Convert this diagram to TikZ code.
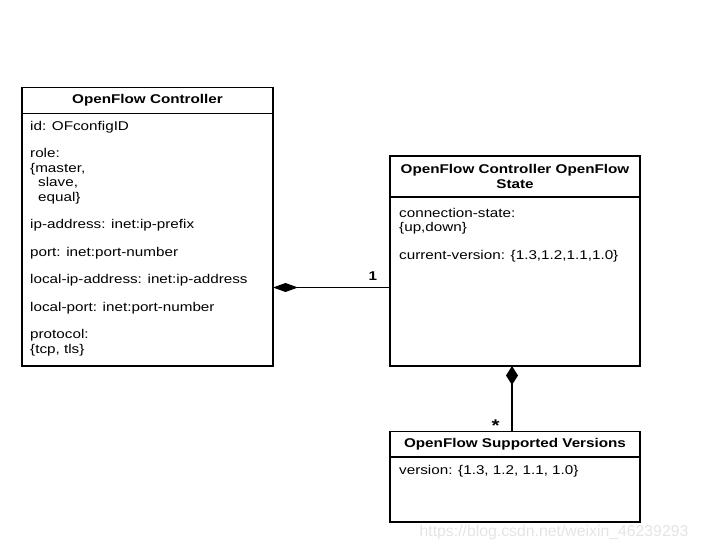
\documentclass[tikz,border=0pt]{standalone}
\usepackage{fontspec}
\setmainfont{Liberation Sans}[FakeStretch=1.2]
\newfontfamily\wmfont{Liberation Sans}
\usepackage{tikz}
\usetikzlibrary{arrows.meta,positioning}
\usepackage{xcolor}
\definecolor{umlline}{RGB}{0,0,0}
\definecolor{umlmark}{RGB}{228,228,228}
\newcommand{\umlfont}{\fontsize{12.7pt}{14.5pt}\selectfont}
\tikzstyle{classhead} = [rectangle, draw=umlline, line width=1.1pt, outer sep=0pt, anchor=north west, font=\umlfont\bfseries, align=center, inner sep=0pt]
\tikzstyle{classbody} = [rectangle, draw=umlline, line width=1.1pt, outer sep=0pt, inner sep=0pt]
\tikzstyle{attrs} = [font=\umlfont, align=left, inner sep=0pt]
\tikzstyle{composition} = [line width=1.1pt, -{Diamond[length=25pt,width=9pt]}]
\tikzstyle{compositionv} = [line width=1.1pt, -{Diamond[length=19pt,width=12pt]}]
\tikzstyle{mult} = [font=\umlfont\bfseries, inner sep=0pt]

\begin{document}
\begin{tikzpicture}[x=1pt, y=1pt]
\useasboundingbox (0,0) rectangle (701,551);
% Classes
\node[classhead, minimum width=251pt, minimum height=26pt] (ctrlhead) at (22,463.5) {OpenFlow Controller};
\node[classbody, minimum width=251pt, minimum height=252.5pt, below=0pt of ctrlhead] (ctrlbody) {};
\node[attrs, below right=7.5pt and 8pt of ctrlbody.north west] (ctrlattrs) {id: OFconfigID\\[13pt]
role:\\
\{master,\\
\hspace*{8pt}slave,\\
\hspace*{8pt}equal\}\\[13pt]
ip-address: inet:ip-prefix\\[13pt]
port: inet:port-number\\[13pt]
local-ip-address: inet:ip-address\\[13pt]
local-port: inet:port-number\\[13pt]
protocol:\\
\{tcp, tls\}};

\node[classhead, minimum width=250pt, minimum height=41pt] (statehead) at (390,395) {OpenFlow Controller OpenFlow\\State};
\node[classbody, minimum width=250pt, minimum height=169pt, below=0pt of statehead] (statebody) {};
\node[attrs, below right=11pt and 9pt of statebody.north west] (stateattrs) {connection-state:\\
\{up,down\}\\[13pt]
current-version: \{1.3,1.2,1.1,1.0\}};

\node[classhead, minimum width=250pt, minimum height=25.5pt] (supphead) at (390,119.5) {OpenFlow Supported Versions};
\node[classbody, minimum width=250pt, minimum height=65pt, below=0pt of supphead] (suppbody) {};
\node[attrs, below right=8pt and 9pt of suppbody.north west] (suppattrs) {version: \{1.3, 1.2, 1.1, 1.0\}};

% Links
\draw[composition] ([yshift=-6pt]statebody.west) -- ([yshift=-6pt]statebody.west -| ctrlbody.east)
  node[mult, pos=0.02, above left=6.5pt and 10pt] (one) {1};
\draw[compositionv] ([xshift=-3pt]supphead.north) -- ([xshift=-3pt]statebody.south)
  node[mult, pos=0.0, above left=-1pt and 12pt, font=\fontsize{17pt}{17pt}\bfseries] (many) {*};

% Watermark
\node[font=\wmfont\fontsize{15.8pt}{16pt}\selectfont, text=umlmark] (mark) at (554,19) {https://blog.csdn.net/weixin\_46239293};
\end{tikzpicture}
\end{document}
